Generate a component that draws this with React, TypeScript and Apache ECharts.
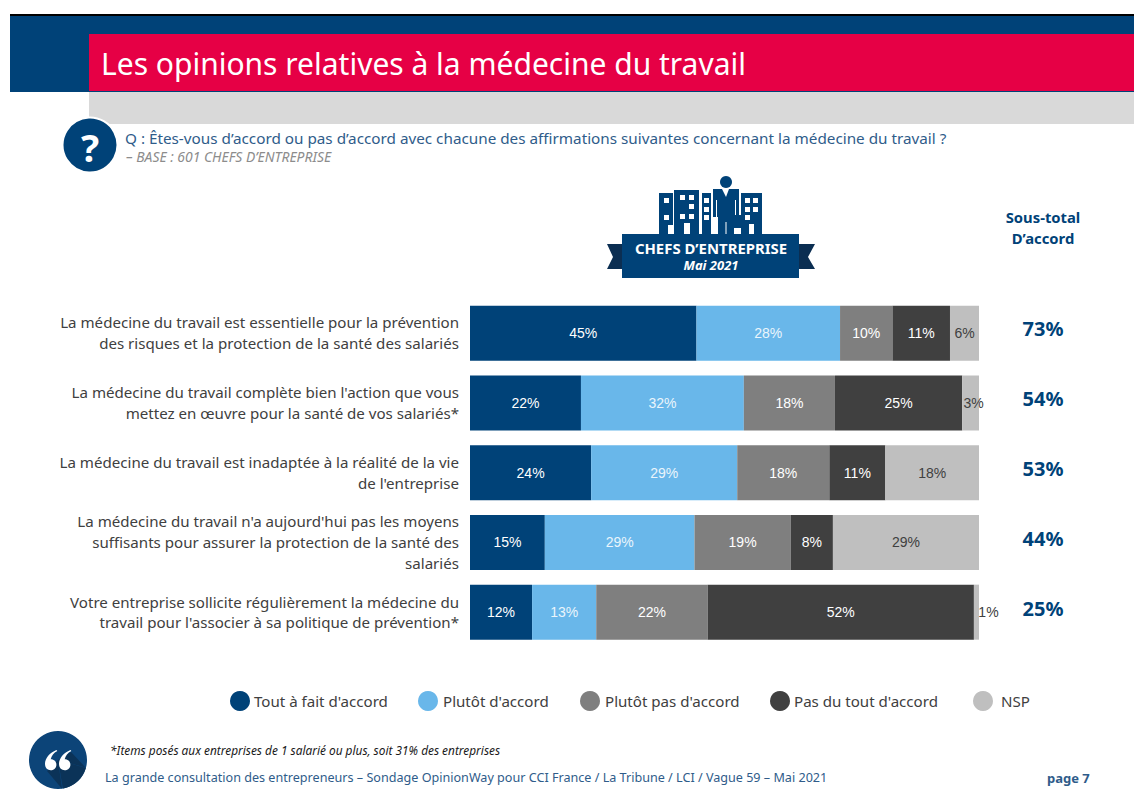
import React, { useEffect, useRef } from "react";
import * as echarts from "echarts";

const categories = [
  "La médecine du travail est essentielle pour la prévention\ndes risques et la protection de la santé des salariés",
  "La médecine du travail complète bien l'action que vous\nmettez en œuvre pour la santé de vos salariés*",
  "La médecine du travail est inadaptée à la réalité de la vie\nde l'entreprise",
  "La médecine du travail n'a aujourd'hui pas les moyens\nsuffisants pour assurer la protection de la santé des\nsalariés",
  "Votre entreprise sollicite régulièrement la médecine du\ntravail pour l'associer à sa politique de prévention*",
];
const subtotals = ["73%", "54%", "53%", "44%", "25%"];
const toutAFait = [44.5, 21.8, 23.8, 14.7, 12.2];
const plutot = [28.2, 32, 28.7, 29.4, 12.6];
const plutotPas = [10.3, 17.9, 18.1, 18.9, 21.9];
const pasDuTout = [11.3, 25, 11, 8.3, 52.3];
const nsp = [5.7, 3.3, 18.4, 28.7, 1];

const NAVY = "#004278";
const UI = "'Noto Sans', sans-serif";

echarts.graphic.registerShape(
  "quoteMark",
  echarts.graphic.extendPath("M12 0C5 3 0 9 0 15C0 20 3 22 6 22C10 22 12 19 12 16C12 12 9 10 6 10C7 6 9 3 13 1Z", {})
);

const seriesDefs = [
  { name: "Tout à fait d'accord", data: toutAFait, color: NAVY, label: "#ffffff", left: 230, pad: 0 },
  { name: "Plutôt d'accord", data: plutot, color: "#69B7EA", label: "#eaf5fc", left: 418, pad: 1 },
  { name: "Plutôt pas d'accord", data: plutotPas, color: "#7F7F7F", label: "#ffffff", left: 580, pad: 1 },
  { name: "Pas du tout d'accord", data: pasDuTout, color: "#404040", label: "#ffffff", left: 770, pad: 0 },
  { name: "NSP", data: nsp, color: "#BFBFBF", label: "#404040", left: 973, pad: 4 },
];

const rect = (x: number, y: number, width: number, height: number, fill: string) => ({
  type: "rect", shape: { x, y, width, height }, style: { fill }, silent: true,
});
const poly = (points: number[][], fill: string) => ({
  type: "polygon", shape: { points }, style: { fill }, silent: true,
});
const text = (x: number, y: number, t: string, font: string, fill: string, textAlign = "left") => ({
  type: "text", x, y, style: { text: t, font, fill, textAlign, textVerticalAlign: "middle" }, silent: true,
});
const circle = (cx: number, cy: number, r: number, fill: string, extra: any = {}) => ({
  type: "circle", shape: { cx, cy, r }, style: { fill, ...extra }, silent: true,
});
const quote = (x: number, y: number) => ({
  type: "quoteMark", x, y, scaleX: 0.95, scaleY: 0.92, style: { fill: "#ffffff" }, silent: true,
});

const windows = [
  [664, 198], [664, 215],
  [680, 195], [689, 195], [689, 204], [680, 214], [689, 214],
  [704, 198], [704, 207], [704, 215],
  [745, 198], [753, 198], [745, 207], [753, 207], [745, 215],
];

const SHADOW = "#0B3358";
const decorations = [
  // header
  rect(10, 14, 1124, 2, "#000000"),
  rect(10, 16, 1124, 76, NAVY),
  rect(89, 92, 1045, 32, "#D9D9D9"),
  rect(89, 34, 1045, 57, "#E60045"),
  text(101, 63, "Les opinions relatives à la médecine du travail", "400 30px " + UI, "#ffffff"),
  // question
  circle(90, 145, 27.5, NAVY, { stroke: "#ffffff", lineWidth: 2 }),
  text(90, 147, "?", "700 38px " + UI, "#ffffff", "center"),
  text(125, 138, "Q : Êtes-vous d’accord ou pas d’accord avec chacune des affirmations suivantes concernant la médecine du travail ?", "400 15.28px " + UI, "#2F5C8A"),
  text(126, 156, "– BASE : 601 CHEFS D’ENTREPRISE", "italic 400 13.9px " + UI, "#8C8C8C"),
  // badge: buildings and man
  rect(659, 193, 14, 41, NAVY),
  rect(674, 190, 25, 44, NAVY),
  rect(702, 193, 11, 41, NAVY),
  rect(741, 193, 21, 41, NAVY),
  ...windows.map(([x, y]) => rect(x, y, 5, 5, "#ffffff")),
  rect(668, 225, 5, 9, "#ffffff"),
  rect(684, 223, 6, 11, "#ffffff"),
  rect(749, 224, 5, 10, "#ffffff"),
  rect(711, 187, 30, 48, "#ffffff"),
  circle(726, 182, 6, NAVY),
  rect(713, 189, 26, 28, NAVY),
  rect(718, 215, 16, 21, NAVY),
  rect(733, 215, 8, 13, NAVY),
  poly([[722, 189], [729, 189], [726, 197]], "#ffffff"),
  rect(716, 200, 1, 17, "#ffffff"),
  rect(735, 200, 1, 15, "#ffffff"),
  rect(725.5, 222, 1, 14, "#ffffff"),
  // badge: ribbon
  poly([[607, 244], [622, 244], [622, 269], [607, 269], [613, 257]], "#0B2E52"),
  poly([[799, 244], [815, 244], [808, 257], [815, 269], [799, 269]], "#0B2E52"),
  rect(622, 234, 177, 44, NAVY),
  text(711, 248, "CHEFS D’ENTREPRISE", "700 14.9px " + UI, "#ffffff", "center"),
  text(711, 265, "Mai 2021", "italic 700 13px " + UI, "#ffffff", "center"),
  // subtotal head
  text(1043, 217, "Sous-total", "700 14.8px " + UI, NAVY, "center"),
  text(1043, 238, "D’accord", "700 14.8px " + UI, NAVY, "center"),
  // footer
  circle(58, 760, 29, "#0C4478"),
  { type: "sector", shape: { cx: 58, cy: 760, r: 29, startAngle: 0.28, endAngle: 1.4 }, style: { fill: SHADOW }, silent: true },
  poly([[71, 752], [85.5, 767.5], [58, 760]], SHADOW),
  poly([[47, 771], [62, 788.7], [58, 760]], SHADOW),
  quote(45, 750),
  quote(59, 750),
  text(110, 749.5, "*Items posés aux entreprises de 1 salarié ou plus, soit 31% des entreprises", "italic 400 11.87px " + UI, "#1a1a1a"),
  text(105, 777.5, "La grande consultation des entrepreneurs – Sondage OpinionWay pour CCI France / La Tribune / LCI / Vague 59 – Mai 2021", "400 12.6px " + UI, "#2F5C8A"),
  text(1047, 777.5, "page 7", "700 13px " + UI, "#2F5C8A"),
];

export default function App() {
  const ref = useRef<HTMLDivElement>(null);
  useEffect(() => {
    const chart = echarts.init(ref.current!, undefined, { renderer: "svg" });
    const hiddenLine = { axisLine: { show: false }, axisTick: { show: false } };
    chart.setOption({
      animation: false,
      backgroundColor: "#ffffff",
      grid: [
        { left: 470, width: 509, top: 298.5, height: 348.5 },
        { left: 470, width: 509, top: 297.5, height: 349.5 },
        { left: 470, width: 509, top: 293.5, height: 350 },
      ],
      xAxis: [0, 1, 2].map((i) => ({ type: "value", gridIndex: i, min: 0, max: 100, show: false })),
      yAxis: [
        { type: "category", gridIndex: 0, inverse: true, data: categories, ...hiddenLine, axisLabel: { show: false } },
        {
          type: "category", gridIndex: 1, inverse: true, data: categories, ...hiddenLine,
          axisLabel: { margin: 11, align: "right", color: "#404040", fontFamily: UI, fontSize: 15.1, lineHeight: 20.7 },
        },
        {
          type: "category", gridIndex: 2, inverse: true, position: "right", data: subtotals, ...hiddenLine,
          axisLabel: { margin: 64, align: "center", color: NAVY, fontFamily: UI, fontSize: 20, fontWeight: 700 },
        },
      ],
      legend: seriesDefs.map((s) => ({
        data: [s.name], left: s.left, top: 691, padding: 0, icon: "circle",
        itemWidth: 20, itemHeight: 20, selectedMode: false,
        textStyle: { color: "#404040", fontFamily: UI, fontSize: 15.1, padding: [0, 0, 2, s.pad - 1] },
      })),
      series: seriesDefs.map((s) => ({
        type: "bar", name: s.name, stack: "total", barWidth: 55, xAxisIndex: 0, yAxisIndex: 0,
        itemStyle: { color: s.color },
        label: {
          show: true, position: "inside", color: s.label,
          fontFamily: "'Liberation Sans', Arial, sans-serif", fontSize: 14,
          formatter: (p: any) => Math.round(p.value) + "%",
        },
        data: s.data.map((v) => (s.name === "NSP" && v < 5
          ? { value: v, label: { offset: [v < 2 ? 12 : 3, 0] } }
          : v)),
      })),
      graphic: { elements: decorations },
    });
    return () => chart.dispose();
  }, []);
  return <div ref={ref} style={{ position: "absolute", left: 0, top: 0, width: 1134, height: 789 }} />;
}
